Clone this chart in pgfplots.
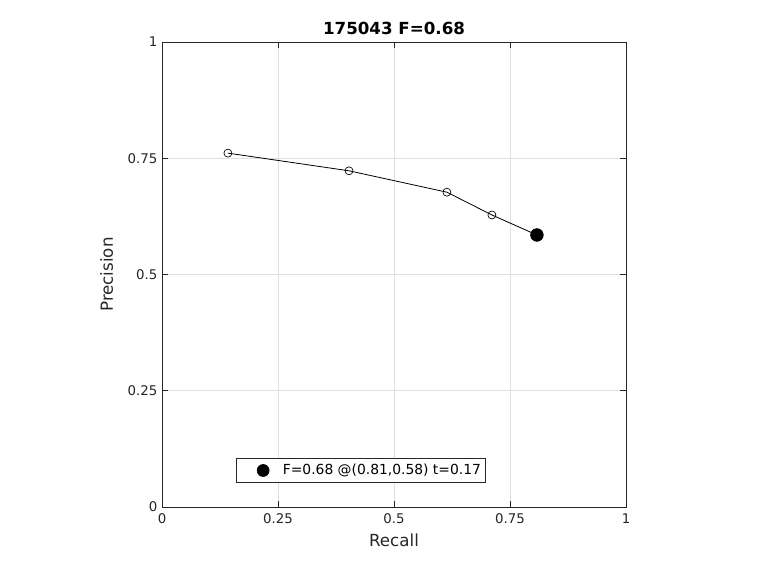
\documentclass[border=0pt]{standalone}
\usepackage{pgfplots}
\pgfplotsset{compat=1.18}
\usepackage{fontspec}
\setmainfont{DejaVu Sans}
\definecolor{axc}{HTML}{262626}
\definecolor{gridc}{HTML}{DFDFDF}
\begin{document}
\begin{tikzpicture}
\begin{axis}[
  at={(0pt,0pt)}, anchor=south west,
  scale only axis, width=348pt, height=348.75pt,
  xmin=0, xmax=1, ymin=0, ymax=1,
  xtick={0,0.25,0.5,0.75,1}, ytick={0,0.25,0.5,0.75,1},
  xticklabels={0,0.25,0.5,0.75,1}, yticklabels={0,0.25,0.5,0.75,1},
  tick align=inside, tick pos=both,
  major tick length=4.5pt,
  grid=major, grid style={gridc, line width=0.5pt},
  axis line style={axc, line width=0.5pt},
  every tick/.style={axc, line width=0.5pt},
  tick label style={font=\fontsize{10}{12}\selectfont, text=axc},
  xticklabel style={yshift=-1.5pt},
  xlabel={Recall}, ylabel={Precision},
  label style={font=\fontsize{12.5}{14}\selectfont, text=axc},
  xlabel style={yshift=-1pt},
  ylabel style={yshift=4pt},
  title={\bfseries 175043 F=0.68},
  title style={font=\fontsize{12.5}{14}\selectfont, yshift=-4pt},
  legend style={at={(0.429,0.0785)}, anchor=center, draw=axc, line width=0.5pt,
    font=\fontsize{10.4}{12}\selectfont, inner sep=1.5pt,
    legend cell align=left, minimum height=15pt},
  legend image code/.code={\path[draw=none,fill=none] (-0.25cm,0) -- (0.85cm,0);\draw[black,fill=black] (0.4cm,0) circle (4.5pt);},
]
\addplot[black, line width=0.6pt, mark=o, mark size=3pt, mark options={line width=0.5pt}, forget plot]
 coordinates {(0.142,0.761) (0.403,0.723) (0.614,0.677) (0.711,0.628) (0.808,0.585)};
\addplot[only marks, mark=*, mark size=4.8pt, black]
 coordinates {(0.808,0.585)};
\addlegendentry{F=0.68 @(0.81,0.58) t=0.17\hspace{2pt}}
\end{axis}
\pgfresetboundingbox
\path (-121.5pt,-47.25pt) rectangle (448.5pt,380.25pt);
\end{tikzpicture}
\end{document}
